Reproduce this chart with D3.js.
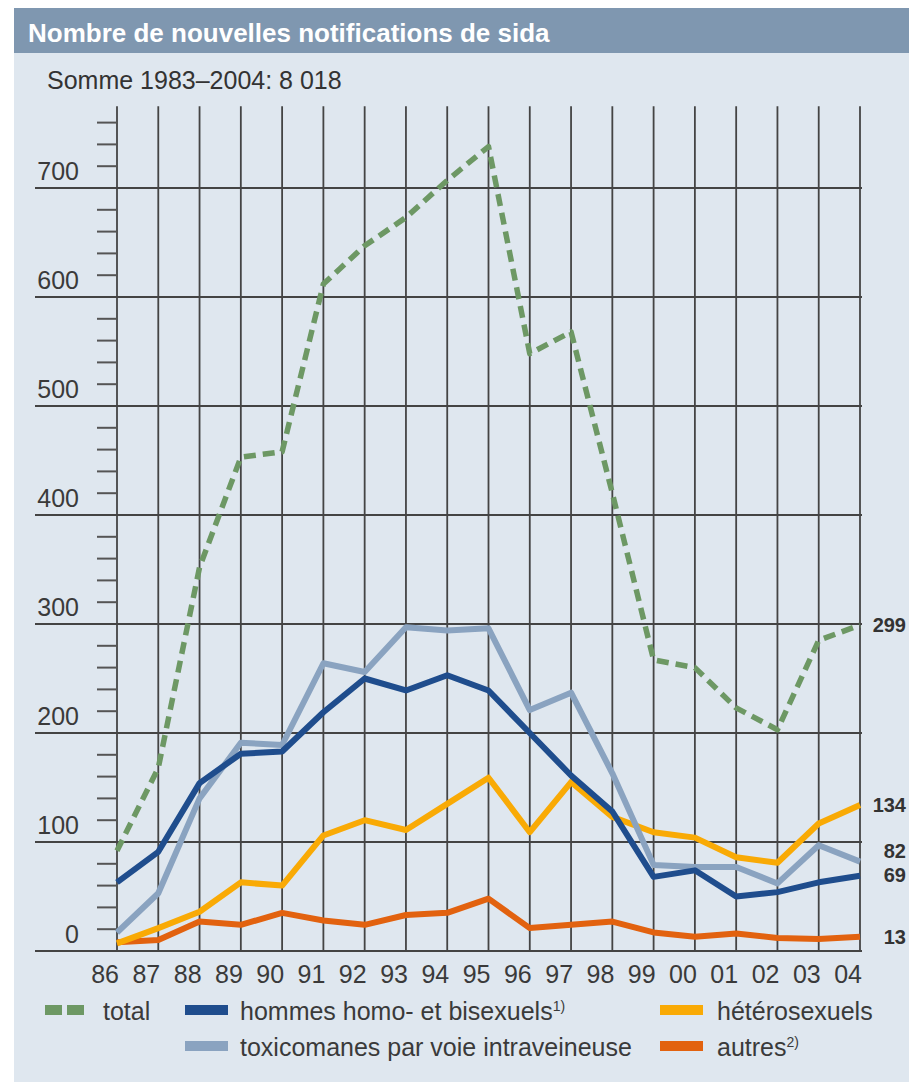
<!DOCTYPE html>
<html>
<head>
<meta charset="utf-8">
<script src="https://cdn.jsdelivr.net/npm/d3@7"></script>
<style>
  body { margin: 0; background: #fff; }
  text { font-family: "Liberation Sans", Arial, Helvetica, sans-serif; }
</style>
</head>
<body>
<div id="chart"></div>
<script>
// data
var years = ["86","87","88","89","90","91","92","93","94","95","96","97","98","99","00","01","02","03","04"];
var total   = [92,168,352,453,458,612,647,673,707,738,548,568,420,267,260,223,203,285,299];
var hommes  = [63,91,154,181,183,219,250,239,253,239,200,161,128,68,74,50,54,63,69];
var toxico  = [17,53,140,191,189,264,256,297,294,296,221,237,163,79,77,77,62,97,82];
var hetero  = [7,21,36,63,60,106,120,111,135,159,109,155,123,109,104,86,81,117,134];
var autres  = [8,10,27,24,35,28,24,33,35,48,21,24,27,17,13,16,12,11,13];
var yTicks = [0,100,200,300,400,500,600,700];

var svgWidth = 909;
var svgHeight = 1082;

var svg = d3.select("#chart")
    .append("svg")
    .attr("width", svgWidth)
    .attr("height", svgHeight);

// panel + header band
svg.append("rect").attr("x", 14).attr("y", 8).attr("width", 895).attr("height", 1074).attr("fill", "#dfe7ef");
svg.append("rect").attr("x", 14).attr("y", 8).attr("width", 895).attr("height", 45).attr("fill", "#7f97b0");
svg.append("text").attr("x", 28).attr("y", 42)
    .attr("fill", "#fff").attr("font-weight", "bold").attr("font-size", 26)
    .text("Nombre de nouvelles notifications de sida");
svg.append("text").attr("x", 47).attr("y", 89)
    .attr("fill", "#333").attr("font-size", 25)
    .text("Somme 1983\u20132004: 8 018");

// scales
var x = d3.scaleLinear().domain([0, years.length - 1]).range([117, 860]);
var y = d3.scaleLinear().domain([0, 700]).range([951, 188]);

var grid = svg.append("g");

// vertical grid lines
grid.selectAll(".vline")
    .data(years)
    .enter()
    .append("line")
    .attr("x1", (d, i) => x(i)).attr("x2", (d, i) => x(i))
    .attr("y1", y(775)).attr("y2", y(0))
    .attr("stroke", "#444").attr("stroke-width", 1.8);

// horizontal grid lines
grid.selectAll(".hline")
    .data(yTicks)
    .enter()
    .append("line")
    .attr("x1", 35).attr("x2", 862)
    .attr("y1", d => y(d)).attr("y2", d => y(d))
    .attr("stroke", "#444").attr("stroke-width", 1.8);

// minor ticks every 20 (not on hundreds)
var minor = d3.range(20, 780, 20).filter(v => v % 100 !== 0);
grid.selectAll(".tick")
    .data(minor)
    .enter()
    .append("line")
    .attr("x1", 97).attr("x2", 117)
    .attr("y1", d => y(d)).attr("y2", d => y(d))
    .attr("stroke", "#555").attr("stroke-width", 2);

// y labels (sit above their grid line)
grid.selectAll(".ylab")
    .data(yTicks)
    .enter()
    .append("text")
    .attr("x", 79)
    .attr("y", d => y(d) - 8.5)
    .attr("text-anchor", "end")
    .attr("font-size", 25)
    .attr("fill", "#3a3a3a")
    .text(d => d);

// x labels (right aligned to the grid line)
grid.selectAll(".xlab")
    .data(years)
    .enter()
    .append("text")
    .attr("x", (d, i) => x(i) + 2)
    .attr("y", 983)
    .attr("text-anchor", "end")
    .attr("font-size", 25)
    .attr("fill", "#3a3a3a")
    .text(d => d);

// series
var series = [
    {name: "autres", values: autres, color: "#e2620f", dash: null},
    {name: "hetero", values: hetero, color: "#f9aa05", dash: null},
    {name: "toxico", values: toxico, color: "#8aa3c0", dash: null},
    {name: "hommes", values: hommes, color: "#1f4d8d", dash: null},
    {name: "total", values: total, color: "#6d9864", dash: "12,7"}
];

var line = d3.line()
    .x((d, i) => x(i))
    .y(d => y(d));

svg.selectAll(".series")
    .data(series)
    .enter()
    .append("path")
    .attr("d", d => line(d.values))
    .attr("fill", "none")
    .attr("stroke", d => d.color)
    .attr("stroke-width", d => d.dash ? 5.5 : 6)
    .attr("stroke-dasharray", d => d.dash)
    .attr("stroke-linejoin", "round");

// end labels
var nudge = {total: 7, hetero: 7, toxico: -4, hommes: 6, autres: 7};
svg.selectAll(".endlab")
    .data(series)
    .enter()
    .append("text")
    .attr("x", 906)
    .attr("y", d => y(d.values[d.values.length - 1]) + nudge[d.name])
    .attr("text-anchor", "end")
    .attr("font-size", 20)
    .attr("font-weight", "bold")
    .attr("fill", "#333")
    .text(d => d.values[d.values.length - 1]);

// legend
var legendItems = [
    {label: "total", sup: "", color: "#6d9864", dash: "17,5", lx: 45, tx: 103, ty: 1020},
    {label: "hommes homo- et bisexuels", sup: "1)", color: "#1f4d8d", dash: null, lx: 185, tx: 240, ty: 1020},
    {label: "h\u00e9t\u00e9rosexuels", sup: "", color: "#f9aa05", dash: null, lx: 660, tx: 717, ty: 1020},
    {label: "toxicomanes par voie intraveineuse", sup: "", color: "#8aa3c0", dash: null, lx: 185, tx: 240, ty: 1056},
    {label: "autres", sup: "2)", color: "#e2620f", dash: null, lx: 660, tx: 717, ty: 1056}
];

var legend = svg.append("g");
legend.selectAll("line")
    .data(legendItems)
    .enter()
    .append("line")
    .attr("x1", d => d.lx).attr("x2", d => d.lx + 43)
    .attr("y1", d => d.ty - 10).attr("y2", d => d.ty - 10)
    .attr("stroke", d => d.color)
    .attr("stroke-width", 10)
    .attr("stroke-dasharray", d => d.dash);

var lt = legend.selectAll("text")
    .data(legendItems)
    .enter()
    .append("text")
    .attr("x", d => d.tx)
    .attr("y", d => d.ty)
    .attr("font-size", 25)
    .attr("fill", "#3a3a3a")
    .text(d => d.label);
lt.append("tspan")
    .attr("dy", -9)
    .attr("font-size", 14)
    .text(d => d.sup);
</script>
</body>
</html>
